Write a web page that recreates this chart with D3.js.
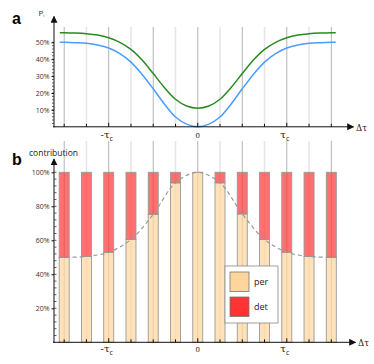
<!DOCTYPE html>
<html>
<head>
<meta charset="utf-8">
<script src="https://cdn.jsdelivr.net/npm/d3@7"></script>
<style>
    body { margin: 0; background: #fff; }
    svg { display: block; font-family: "Open Sans", sans-serif; }
</style>
</head>
<body>
<svg id="chart" width="374" height="364"></svg>
<script>
// sample positions (in units of tau_c / 4) for the curves of panel a
var curveT = [-6.2, -6, -5.5, -5, -4.5, -4, -3.5, -3, -2.5, -2, -1.5, -1, -0.5, 0,
        0.5, 1, 1.5, 2, 2.5, 3, 3.5, 4, 4.5, 5, 5.5, 6, 6.2],
    blueP = [0.500, 0.500, 0.498, 0.494, 0.484, 0.466, 0.433, 0.383, 0.310, 0.225, 0.135, 0.058, 0.016, 0,
        0.016, 0.058, 0.135, 0.225, 0.310, 0.383, 0.433, 0.466, 0.484, 0.494, 0.498, 0.500, 0.500],
    greenP = [0.557, 0.557, 0.555, 0.551, 0.543, 0.527, 0.500, 0.458, 0.395, 0.315, 0.233, 0.163, 0.123, 0.110,
        0.123, 0.163, 0.233, 0.315, 0.395, 0.458, 0.500, 0.527, 0.543, 0.551, 0.555, 0.557, 0.557];

// panel b bars
var barT = [-6, -5, -4, -3, -2, -1, 0, 1, 2, 3, 4, 5, 6],
    perShare = [0.500, 0.505, 0.530, 0.605, 0.753, 0.938, 1.000, 0.938, 0.755, 0.605, 0.530, 0.505, 0.500],
    detShare = [0.500, 0.495, 0.470, 0.395, 0.247, 0.062, 0.000, 0.062, 0.245, 0.395, 0.470, 0.495, 0.500],
    trendT = [-6.25, -6, -5, -4, -3, -2, -1, 0, 1, 2, 3, 4, 5, 6, 6.25],
    trendV = [0.500, 0.500, 0.505, 0.530, 0.605, 0.753, 0.938, 1.000, 0.938, 0.755, 0.605, 0.530, 0.505, 0.500, 0.500];

var aTicks = [0.1, 0.2, 0.3, 0.4, 0.5],
    bTicks = [0.2, 0.4, 0.6, 0.8, 1.0],
    xLabels = [{t: -4, s: "-τ"}, {t: 0, s: "0"}, {t: 4, s: "τ"}],
    legendItems = ["per", "det"];

var colPer = "#ffd59b",
    colDet = "#ff3333";

var svg = d3.select("#chart");

svg.append("defs").append("marker")
    .attr("id", "arrow")
    .attr("viewBox", "0 0 10 10")
    .attr("refX", 9).attr("refY", 5)
    .attr("markerWidth", 7).attr("markerHeight", 7)
    .attr("markerUnits", "userSpaceOnUse")
    .attr("orient", "auto")
    .append("path")
    .attr("d", "M0,0 L10,5 L0,10 z")
    .attr("fill", "#111");

var x = d3.scaleLinear().domain([-6, 6]).range([64.2, 331.3]),
    ya = d3.scaleLinear().domain([0, 0.5]).range([126.8, 42.3]),
    yb = d3.scaleLinear().domain([0, 1]).range([342.3, 172.3]),
    axisX = 54;

var gridT = d3.range(-6, 7);

function grid(top, bottom) {
    svg.append("g").selectAll("line")
        .data(gridT)
        .enter().append("line")
        .attr("x1", function (d) { return x(d); })
        .attr("x2", function (d) { return x(d); })
        .attr("y1", top).attr("y2", bottom)
        .attr("stroke", function (d) { return d % 2 === 0 ? "#b4b4b4" : "#e6e6e6"; })
        .attr("stroke-width", function (d) { return d % 2 === 0 ? 1 : 1.6; });
}

function xAxis(yPos, tip, labelY, deltaX, deltaY) {
    svg.append("line")
        .attr("x1", axisX - 1).attr("x2", tip)
        .attr("y1", yPos).attr("y2", yPos)
        .attr("stroke", "#111").attr("stroke-width", 1)
        .attr("marker-end", "url(#arrow)");
    svg.append("g").selectAll("line")
        .data(gridT)
        .enter().append("line")
        .attr("x1", function (d) { return x(d); })
        .attr("x2", function (d) { return x(d); })
        .attr("y1", yPos).attr("y2", function (d) { return yPos - (d % 4 === 0 ? 4 : 3); })
        .attr("stroke", "#111");
    var lab = svg.append("g").selectAll("text")
        .data(xLabels)
        .enter().append("text")
        .attr("x", function (d) { return x(d.t) - (d.s === "0" ? 0 : 2); })
        .attr("y", labelY)
        .attr("text-anchor", "middle")
        .attr("font-size", function (d) { return d.s === "0" ? 7 : 10; })
        .attr("font-family", "DejaVu Serif, serif")
        .attr("fill", "#222");
    lab.append("tspan").text(function (d) { return d.s; });
    lab.filter(function (d) { return d.s !== "0"; })
        .append("tspan")
        .attr("dy", 3).attr("font-size", 7).attr("font-family", "Open Sans, sans-serif")
        .text("c");
    svg.append("text")
        .attr("x", deltaX).attr("y", deltaY)
        .attr("font-size", 8.5)
        .attr("font-family", "DejaVu Serif, serif")
        .attr("fill", "#222")
        .text("Δτ");
}

function yAxis(scale, bottom, tip, major, minorStep, minorSize) {
    svg.append("line")
        .attr("x1", axisX).attr("x2", axisX)
        .attr("y1", bottom + 0.5).attr("y2", tip)
        .attr("stroke", "#111").attr("stroke-width", 1)
        .attr("marker-end", "url(#arrow)");
    var minor = d3.range(minorStep, scale.domain()[1] + 1e-6, minorStep);
    svg.append("g").selectAll("line")
        .data(minor)
        .enter().append("line")
        .attr("x1", axisX).attr("x2", axisX + minorSize)
        .attr("y1", function (d) { return scale(d); })
        .attr("y2", function (d) { return scale(d); })
        .attr("stroke", "#333").attr("stroke-width", 0.8);
    var g = svg.append("g")
        .attr("transform", "translate(" + axisX + ",0)")
        .call(d3.axisLeft(scale).tickValues(major).tickFormat(d3.format(".0%")).tickSize(2.5).tickPadding(2));
    g.select(".domain").remove();
    g.selectAll("text").attr("font-size", 7).attr("fill", "#333").attr("font-family", "Open Sans, sans-serif");
    g.selectAll(".tick line").attr("stroke", "#111");
}

// ---------- panel a ----------
grid(27, 126.8);
var line = d3.line()
    .x(function (d) { return x(d[0]); })
    .y(function (d) { return ya(d[1]); })
    .curve(d3.curveCatmullRom.alpha(0.5));
svg.append("path")
    .attr("d", line(d3.zip(curveT, greenP)))
    .attr("fill", "none").attr("stroke", "#2a8a22").attr("stroke-width", 1.5);
svg.append("path")
    .attr("d", line(d3.zip(curveT, blueP)))
    .attr("fill", "none").attr("stroke", "#4a9dff").attr("stroke-width", 1.5);
yAxis(ya, 126.8, 16.5, aTicks, 0.02, -2);
xAxis(126.8, 353.5, 138, 356, 130.5);

var pLab = svg.append("text").attr("x", 38.5).attr("y", 15.5)
    .attr("font-size", 8).attr("fill", "#333");
pLab.append("tspan").text("P");
pLab.append("tspan").attr("dy", 1.5).attr("font-size", 4).text("i");

// ---------- panel b ----------
grid(141, 342.3);
var bars = svg.append("g").selectAll("g")
    .data(barT.map(function (t, i) { return {t: t, per: perShare[i], det: detShare[i]}; }))
    .enter().append("g");
bars.append("rect")
    .attr("x", function (d) { return x(d.t) - 5; })
    .attr("width", 10)
    .attr("y", function (d) { return yb(d.per); })
    .attr("height", function (d) { return yb(0) - yb(d.per); })
    .attr("fill", colPer).attr("fill-opacity", 0.7)
    .attr("stroke", "#999").attr("stroke-width", 0.9);
bars.filter(function (d) { return d.det > 0; }).append("rect")
    .attr("x", function (d) { return x(d.t) - 5; })
    .attr("width", 10)
    .attr("y", function (d) { return yb(d.per + d.det); })
    .attr("height", function (d) { return yb(d.per) - yb(d.per + d.det); })
    .attr("fill", colDet).attr("fill-opacity", 0.7)
    .attr("stroke", "#999").attr("stroke-width", 0.9);

svg.append("path")
    .attr("d", d3.line()
        .x(function (d) { return x(d[0]); })
        .y(function (d) { return yb(d[1]); })
        .curve(d3.curveCatmullRom.alpha(0.5))(d3.zip(trendT, trendV)))
    .attr("fill", "none").attr("stroke", "#999").attr("stroke-width", 1.2)
    .attr("stroke-dasharray", "4,3");

yAxis(yb, 342.3, 159, bTicks, 0.04, 2.5);
xAxis(342.3, 355.5, 352, 358, 346);

svg.append("text").attr("x", 29).attr("y", 155.5)
    .attr("font-size", 8.5).attr("fill", "#222").text("contribution");

// legend
var leg = svg.append("g").attr("transform", "translate(225,266)");
leg.append("rect").attr("width", 53).attr("height", 57)
    .attr("fill", "#fff").attr("stroke", "#888").attr("stroke-width", 0.8);
var li = leg.selectAll(".item")
    .data(legendItems)
    .enter().append("g")
    .attr("transform", function (d, i) { return "translate(5," + (6 + i * 25) + ")"; });
li.append("rect").attr("width", 19).attr("height", 19.5)
    .attr("fill", function (d) { return d === "per" ? colPer : colDet; })
    .attr("stroke", "#777").attr("stroke-width", 0.8);
li.append("text").attr("x", 24).attr("y", 13)
    .attr("font-size", 9).attr("fill", "#222")
    .text(function (d) { return d; });

// panel letters
svg.append("text").attr("x", 12).attr("y", 24)
    .attr("font-size", 16).attr("font-weight", "bold").attr("font-family", "Liberation Sans, Arial, sans-serif")
    .text("a");
svg.append("text").attr("x", 12).attr("y", 165)
    .attr("font-size", 16).attr("font-weight", "bold").attr("font-family", "Liberation Sans, Arial, sans-serif")
    .text("b");
</script>
</body>
</html>
